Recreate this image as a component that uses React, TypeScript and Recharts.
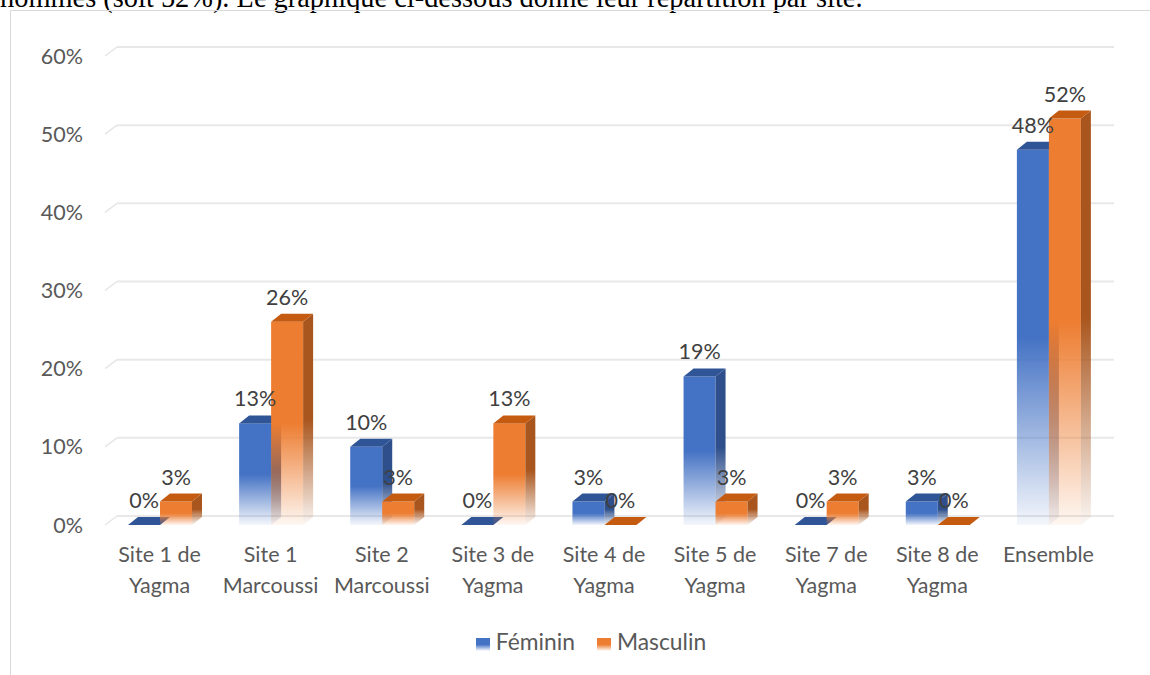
import { BarChart, Bar, XAxis, YAxis, CartesianGrid, Legend, LabelList } from 'recharts';

const categories = [
  'Site 1 de\nYagma',
  'Site 1\nMarcoussi',
  'Site 2\nMarcoussi',
  'Site 3 de\nYagma',
  'Site 4 de\nYagma',
  'Site 5 de\nYagma',
  'Site 7 de\nYagma',
  'Site 8 de\nYagma',
  'Ensemble',
];
const feminin = [0, 13, 10, 0, 3, 19, 0, 3, 48];
const masculin = [3, 26, 3, 13, 0, 3, 3, 0, 52];
const yTicks = [0, 10, 20, 30, 40, 50, 60];

const data = categories.map((name, i) => ({ name, feminin: feminin[i], masculin: masculin[i] }));

const FONT = 'Lato, "Open Sans", sans-serif';
const TEXT = '#595959';
const FS = 21.5;

const COLORS = {
  feminin: { front: '#4472C4', top: '#2F5597', side: '#2E4F8C' },
  masculin: { front: '#ED7D31', top: '#C55A11', side: '#A9561E' },
};

// 3D depth of bars and back wall
const DX = 10;
const DY = 8;

function make3DBar(key: 'feminin' | 'masculin') {
  return (props: any) => {
    const { x, y, width, height } = props;
    const c = COLORS[key];
    const h = Math.max(0, height);
    return (
      <g>
        {h > 0 && <rect x={x} y={y} width={width} height={h} fill={`url(#front-${key})`} />}
        {h > 0 && (
          <polygon
            points={`${x + width},${y} ${x + width + DX},${y - DY} ${x + width + DX},${y + h - DY} ${x + width},${y + h}`}
            fill={`url(#side-${key})`}
          />
        )}
        <polygon
          points={`${x},${y} ${x + DX},${y - DY} ${x + width + DX},${y - DY} ${x + width},${y}`}
          fill={c.top}
        />
      </g>
    );
  };
}

// gridlines sit on the back wall, with a short slanted piece on the side wall
const GridLine = (props: any) => {
  const { x1, x2, y1 } = props;
  return (
    <g>
      <line x1={x1 + 1} y1={y1} x2={x1 + 13} y2={y1 - DY - 1} stroke="#e6e6e6" strokeWidth={1.5} />
      <line x1={x1 + 13} y1={y1 - DY - 1} x2={x2 + DX} y2={y1 - DY - 1} stroke="#e8e8e8" strokeWidth={2} />
    </g>
  );
};

const renderLabel = (props: any) => {
  const { x, y, width, value } = props;
  return (
    <text x={x + width / 2} y={y - 17} textAnchor="middle" fill="#404040" fontSize={FS} fontFamily={FONT}>
      {Math.round(value)}%
    </text>
  );
};

const CatTick = (props: any) => {
  const { x, y, payload } = props;
  const lines = String(payload.value).split('\n');
  return (
    <text x={x} y={y} textAnchor="middle" fill={TEXT} fontSize={FS} fontFamily={FONT}>
      {lines.map((l, i) => (
        <tspan key={i} x={x} dy={i === 0 ? 37 : 31}>
          {l}
        </tspan>
      ))}
    </text>
  );
};

const LegendContent = () => (
  <div style={{ display: 'flex', justifyContent: 'center', gap: 22, fontFamily: FONT, fontSize: 22.8, color: TEXT, paddingLeft: 32 }}>
    {[
      { label: 'Féminin', c: COLORS.feminin.front },
      { label: 'Masculin', c: COLORS.masculin.front },
    ].map((it) => (
      <div key={it.label} style={{ display: 'flex', alignItems: 'center', gap: 6 }}>
        <div
          style={{
            width: 14,
            height: 13,
            marginTop: 6,
            background: `linear-gradient(${it.c} 0%, ${it.c} 50%, #ffffff 100%)`,
          }}
        />
        <span>{it.label}</span>
      </div>
    ))}
  </div>
);

export default function App() {
  return (
    <div style={{ position: 'absolute', left: 0, top: 0, width: 1150, height: 675, overflow: 'hidden', background: '#fff' }}>
      <div
        style={{
          position: 'absolute',
          left: 0,
          top: -16,
          fontFamily: '"Liberation Serif", "Times New Roman", serif',
          fontSize: 28.4,
          lineHeight: '28.4px',
          whiteSpace: 'nowrap',
          color: '#000',
        }}
      >
        hommes (soit 52%). Le graphique ci-dessous donne leur répartition par site.
      </div>
      <div
        style={{
          position: 'absolute',
          left: 10,
          top: 10,
          width: 1160,
          height: 700,
          border: '1px solid #d9d9d9',
        }}
      />
      <div style={{ position: 'absolute', left: 0, top: 0 }}>
        <BarChart
          width={1150}
          height={675}
          data={data}
          margin={{ top: 56, right: 46, bottom: 120, left: 44 }}
          barGap={0}
        >
          <defs>
            {(['feminin', 'masculin'] as const).map((k) => (
              <linearGradient key={`f-${k}`} id={`front-${k}`} x1="0" y1="0" x2="0" y2="1">
                <stop offset="0%" stopColor={COLORS[k].front} />
                <stop offset="50%" stopColor={COLORS[k].front} />
                <stop offset="100%" stopColor={COLORS[k].front} stopOpacity={0.06} />
              </linearGradient>
            ))}
            {(['feminin', 'masculin'] as const).map((k) => (
              <linearGradient key={`s-${k}`} id={`side-${k}`} x1="0" y1="0" x2="0" y2="1">
                <stop offset="0%" stopColor={COLORS[k].side} />
                <stop offset="50%" stopColor={COLORS[k].side} />
                <stop offset="100%" stopColor={COLORS[k].side} stopOpacity={0.05} />
              </linearGradient>
            ))}
          </defs>
          <CartesianGrid vertical={false} horizontal={(p: any) => <GridLine key={p.key} {...p} />} />
          <XAxis
            dataKey="name"
            height={30}
            axisLine={false}
            tickLine={false}
            tickSize={0}
            tickMargin={0}
            interval={0}
            tick={<CatTick />}
          />
          <YAxis
            width={60}
            domain={[0, 60]}
            ticks={yTicks}
            axisLine={false}
            tickLine={false}
            tickSize={0}
            tickMargin={21}
            tickFormatter={(v: number) => `${v}%`}
            tick={{ fill: TEXT, fontSize: FS, fontFamily: FONT }}
          />
          <Legend verticalAlign="middle" wrapperStyle={{ top: 627, left: 0, width: 1150 }} content={<LegendContent />} />
          <Bar dataKey="feminin" name="Féminin" barSize={32} shape={make3DBar('feminin')} isAnimationActive={false}>
            <LabelList dataKey="feminin" content={renderLabel} />
          </Bar>
          <Bar dataKey="masculin" name="Masculin" barSize={32} shape={make3DBar('masculin')} isAnimationActive={false}>
            <LabelList dataKey="masculin" content={renderLabel} />
          </Bar>
        </BarChart>
      </div>
    </div>
  );
}
